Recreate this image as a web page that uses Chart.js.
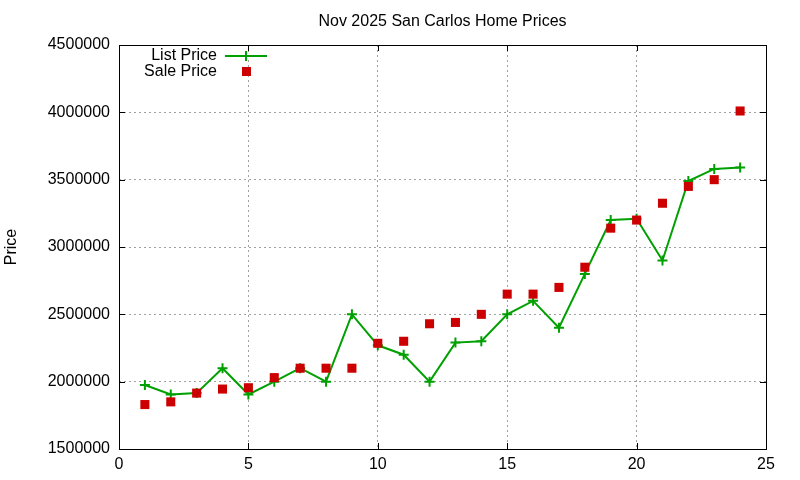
<!DOCTYPE html>
<html>
<head>
<meta charset="utf-8">
<script src="https://cdn.jsdelivr.net/npm/chart.js@4/dist/chart.umd.min.js"></script>
<style>
  html, body { margin: 0; padding: 0; background: #fff; }
  #wrap { width: 800px; height: 480px; }
</style>
</head>
<body>
<div id="wrap"><canvas id="chart"></canvas></div>
<script>
// ─── Data ─────────────────────────────────────────────────────────────────────
const days = [1, 2, 3, 4, 5, 6, 7, 8, 9, 10, 11, 12, 13, 14, 15, 16, 17, 18, 19, 20, 21, 22, 23, 24];
const listPrice = [1975000, 1905000, 1915000, 2100000, 1905000, 2000000, 2100000, 2000000, 2500000, 2270000, 2200000, 2000000,
                   2290000, 2300000, 2500000, 2600000, 2400000, 2800000, 3200000, 3210000, 2900000, 3490000, 3580000, 3590000];
const salePrice = [1830000, 1850000, 1915000, 1945000, 1955000, 2030000, 2100000, 2100000, 2100000, 2285000, 2300000, 2430000,
                   2440000, 2500000, 2650000, 2650000, 2700000, 2850000, 3140000, 3200000, 3325000, 3450000, 3500000, 4010000];
const xTicks = [0, 5, 10, 15, 20, 25];
const yTicks = [1500000, 2000000, 2500000, 3000000, 3500000, 4000000, 4500000];

const GREEN = '#00a000';
const RED = '#cc0000';
const FONT = 'Liberation Sans, Arial, sans-serif';

// ─── Gnuplot-style frame: box border, inward ticks, key ───────────────────────
const framePlugin = {
  id: 'frame',
  afterDraw(chart) {
    const { ctx, chartArea: a, scales: { x, y } } = chart;
    const T = 6;
    ctx.save();
    ctx.setLineDash([]);
    ctx.strokeStyle = '#000';
    ctx.lineWidth = 1;
    ctx.beginPath();
    xTicks.forEach(v => {
      const px = Math.round(x.getPixelForValue(v)) + 0.5;
      ctx.moveTo(px, a.bottom); ctx.lineTo(px, a.bottom - T);
      ctx.moveTo(px, a.top); ctx.lineTo(px, a.top + T);
    });
    yTicks.forEach(v => {
      const py = Math.round(y.getPixelForValue(v)) + 0.5;
      ctx.moveTo(a.left, py); ctx.lineTo(a.left + T, py);
      ctx.moveTo(a.right, py); ctx.lineTo(a.right - T, py);
    });
    ctx.stroke();
    ctx.strokeRect(Math.round(a.left) + 0.5, Math.round(a.top) + 0.5,
                   Math.round(a.right - a.left), Math.round(a.bottom - a.top));

    // key
    ctx.font = '16px ' + FONT;
    ctx.fillStyle = '#000';
    ctx.textAlign = 'right';
    ctx.textBaseline = 'middle';
    ctx.fillText('List Price', 217, 56);
    ctx.fillText('Sale Price', 217, 72);
    ctx.strokeStyle = GREEN;
    ctx.lineWidth = 2;
    ctx.beginPath();
    ctx.moveTo(225, 56); ctx.lineTo(267, 56);
    ctx.moveTo(246, 51); ctx.lineTo(246, 61);
    ctx.stroke();
    ctx.fillStyle = RED;
    ctx.fillRect(242, 67, 9, 9);
    ctx.restore();
  }
};

new Chart(document.getElementById('chart').getContext('2d'), {
  type: 'line',
  data: {
    datasets: [{
      label: 'List Price',
      data: days.map((d, i) => ({ x: d, y: listPrice[i] })),
      borderColor: GREEN,
      backgroundColor: GREEN,
      borderWidth: 2,
      pointStyle: 'cross',
      pointRadius: 5,
      pointBorderWidth: 2,
      tension: 0,
      order: 2,
    }, {
      label: 'Sale Price',
      data: days.map((d, i) => ({ x: d, y: salePrice[i] })),
      showLine: false,
      pointStyle: 'rect',
      pointRadius: 6.4,
      pointBorderWidth: 0,
      borderColor: RED,
      backgroundColor: RED,
      order: 1,
    }],
  },
  options: {
    responsive: true, maintainAspectRatio: false,
    animation: false,
    layout: { padding: { left: 0, right: 34, top: 0, bottom: 0 } },
    plugins: {
      legend: { display: false },
      tooltip: { enabled: false },
      title: {
        display: true,
        text: 'Nov 2025 San Carlos Home Prices',
        color: '#000',
        fullSize: false,
        font: { family: FONT, size: 16, weight: 'normal' },
        padding: { top: 12, bottom: 13.8 },
      },
    },
    scales: {
      x: {
        type: 'linear', min: 0, max: 25,
        afterBuildTicks: s => { s.ticks = xTicks.map(v => ({ value: v })); },
        afterFit: s => { s.height = 31; },
        grid: { color: '#a0a0a0', lineWidth: 1, drawTicks: false },
        border: { display: false, dash: [2, 3] },
        ticks: { color: '#000', padding: 6, font: { family: FONT, size: 16 } },
      },
      y: {
        type: 'linear', min: 1500000, max: 4500000,
        afterBuildTicks: s => { s.ticks = yTicks.map(v => ({ value: v })); },
        afterFit: s => { s.width = 119; },
        grid: { color: '#a0a0a0', lineWidth: 1, drawTicks: false },
        border: { display: false, dash: [2, 3] },
        ticks: { color: '#000', padding: 9, font: { family: FONT, size: 16 }, callback: v => String(v) },
        title: {
          display: true, text: 'Price', color: '#000',
          font: { family: FONT, size: 16 },
          padding: { top: 2, bottom: 0 },
        },
      },
    },
  },
  plugins: [framePlugin],
});
</script>
</body>
</html>
